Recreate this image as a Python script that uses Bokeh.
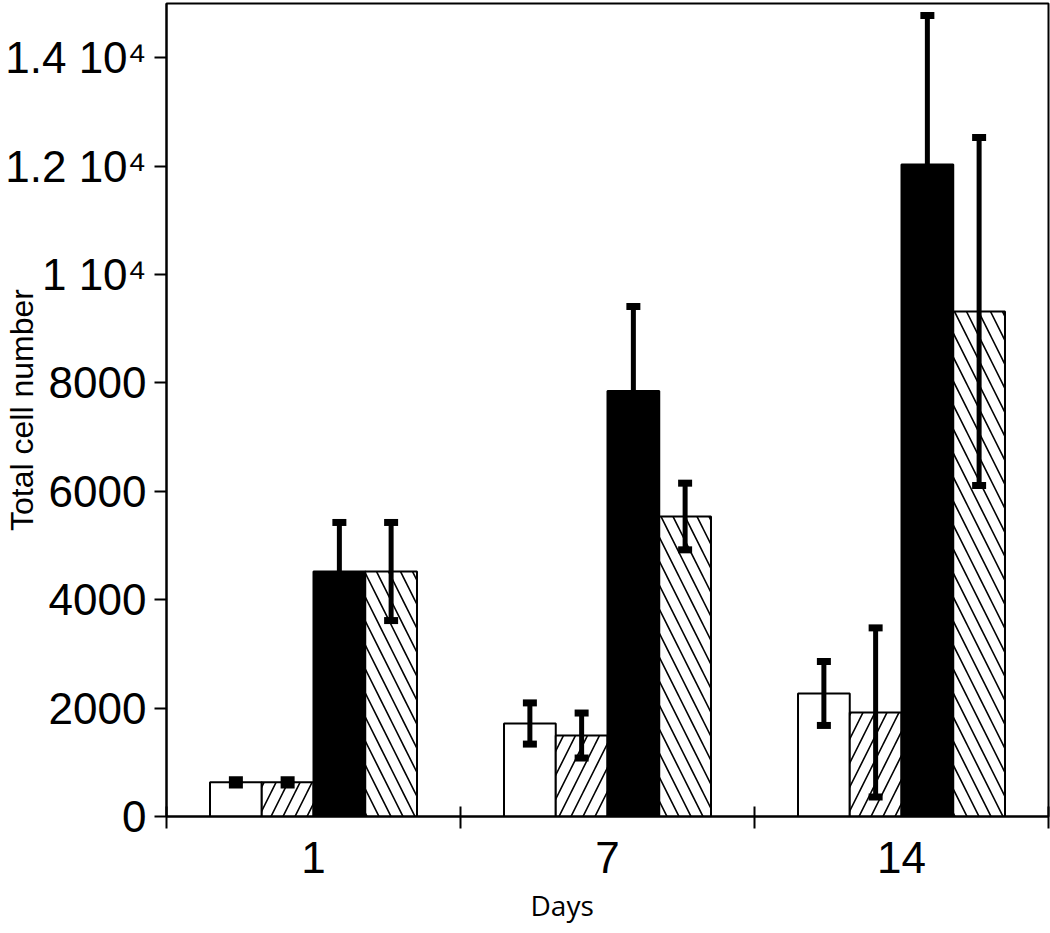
import numpy as np
from bokeh.plotting import figure
from bokeh.models import (ColumnDataSource, FixedTicker, Range1d, Whisker, TeeHead, Title)
from bokeh.embed import file_html
from bokeh.resources import INLINE

# ---- data ----
days = ["1", "7", "14"]
s1_vals = [630, 1716, 2270]
s1_err = [50, 380, 590]
s2_vals = [630, 1494, 1920]
s2_err = [50, 415, 1560]
s3_vals = [4520, 7850, 12030]
s3_err = [905, 1560, 2750]
s4_vals = [4520, 5535, 9317]
s4_err = [905, 615, 3210]

y_ticks = [0, 2000, 4000, 6000, 8000, 10000, 12000, 14000]
y_tick_labels = ["0", "2000", "4000", "6000", "8000", "1 10\u2074", "1.2 10\u2074", "1.4 10\u2074"]

# ---- styling ----
bar_w = 0.176
offsets = [-1.5 * bar_w, -0.5 * bar_w, 0.5 * bar_w, 1.5 * bar_w]
styles = [
    dict(fill_color="white"),
    dict(fill_color="white", hatch_pattern="right_diagonal_line", hatch_color="black", hatch_scale=24, hatch_weight=1.6),
    dict(fill_color="black"),
    dict(fill_color="white", hatch_pattern="left_diagonal_line", hatch_color="black", hatch_scale=24, hatch_weight=1.6),
]
series = [(s1_vals, s1_err), (s2_vals, s2_err), (s3_vals, s3_err), (s4_vals, s4_err)]

p = figure(width=1050, height=933, output_backend="svg", toolbar_location=None,
           x_range=Range1d(0, 3), y_range=Range1d(0, 15000),
           min_border_left=166, min_border_right=2, min_border_top=3, min_border_bottom=117)
p.grid.visible = False
p.outline_line_color = "black"
p.outline_line_width = 2
p.background_fill_color = "white"
p.border_fill_color = "white"

centers = np.arange(len(days)) + 0.5

for (vals, errs), off, st in zip(series, offsets, styles):
    x = centers + off
    v = np.array(vals, dtype=float)
    e = np.array(errs, dtype=float)
    src = ColumnDataSource(dict(x=x, top=v, upper=v + e, lower=v - e))
    p.vbar(x="x", top="top", bottom=0, width=bar_w, source=src,
           line_color="black", line_width=2, **st)
    w = Whisker(base="x", upper="upper", lower="lower", source=src,
                line_color="black", line_width=5, level="overlay",
                upper_head=TeeHead(size=14, line_width=7, line_color="black"),
                lower_head=TeeHead(size=14, line_width=7, line_color="black"))
    p.add_layout(w)

# ---- x axis ----
xa = p.xaxis[0]
xa.ticker = FixedTicker(ticks=list(centers), minor_ticks=[0, 1, 2, 3])
xa.major_label_overrides = {float(c): d for c, d in zip(centers, days)}
xa.major_tick_in = 0
xa.major_tick_out = 0
xa.minor_tick_in = 10
xa.minor_tick_out = 12
xa.minor_tick_line_width = 2
xa.minor_tick_line_color = "black"
xa.axis_line_width = 2
xa.axis_line_color = "black"
xa.major_label_text_font = "Liberation Sans"
xa.major_label_text_font_size = "44px"
xa.major_label_text_color = "black"
xa.major_label_standoff = 13

# ---- y axis ----
ya = p.yaxis[0]
ya.ticker = FixedTicker(ticks=y_ticks, minor_ticks=[])
ya.major_label_overrides = {t: l for t, l in zip(y_ticks, y_tick_labels)}
ya.major_tick_in = 0
ya.major_tick_out = 12
ya.major_tick_line_width = 2
ya.major_tick_line_color = "black"
ya.axis_line_width = 2
ya.axis_line_color = "black"
ya.major_label_text_font = "Liberation Sans"
ya.major_label_text_font_size = "44px"
ya.major_label_text_color = "black"
ya.major_label_standoff = 8
ya.axis_label = "Total cell number"
ya.axis_label_text_font = "Liberation Sans"
ya.axis_label_text_font_size = "32px"
ya.axis_label_text_font_style = "normal"
ya.axis_label_text_color = "black"
ya.axis_label_standoff = -38

# ---- x title ----
p.add_layout(Title(text="Days", align="left", offset=364, standoff=17,
                   text_font="Open Sans", text_font_size="28px",
                   text_font_style="normal", text_color="black"), "below")

open("out.html", "w").write(file_html(p, INLINE))
